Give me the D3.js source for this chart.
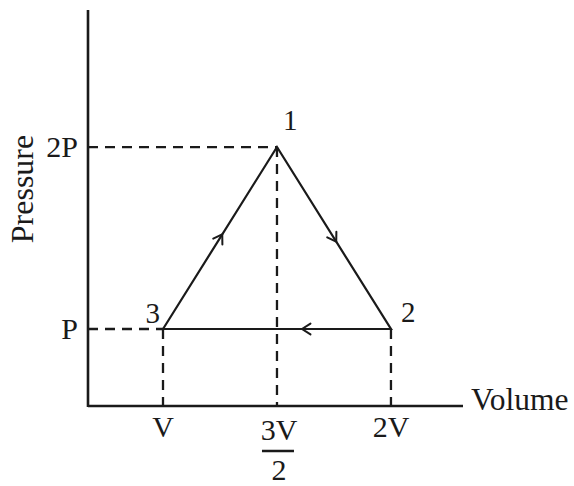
<!DOCTYPE html>
<html>
<head>
<meta charset="utf-8">
<script src="https://cdn.jsdelivr.net/npm/d3@7/dist/d3.min.js"></script>
<style>
  html, body { margin: 0; padding: 0; background: #fff; }
  svg { display: block; }
  text { font-family: "Liberation Serif", "Times New Roman", serif; fill: #1a1a1a; }
</style>
</head>
<body>
<svg id="chart" width="574" height="486"></svg>
<script>
// ---- data ----
const stateNames = ["1", "2", "3"];
const stateVolumes = [1.5, 2, 1];      // in units of V
const statePressures = [2, 1, 1];      // in units of P
const cyclePath = ["3", "1", "2", "3"]; // direction of the cycle
const xTickValues = [1, 1.5, 2];
const xTickLabels = ["V", "3V/2", "2V"];
const yTickValues = [1, 2];
const yTickLabels = ["P", "2P"];
const xAxisTitle = "Volume";
const yAxisTitle = "Pressure";

// ---- layout ----
const svg = d3.select("#chart");
const ink = "#1a1a1a";

const x = d3.scaleLinear().domain([0.671, 2.316]).range([88, 463]);
const y = d3.scaleLinear().domain([0.577, 2.753]).range([406, 10]);

const states = stateNames.map((n, i) => ({ name: n, v: stateVolumes[i], p: statePressures[i] }));
const byName = Object.fromEntries(states.map(s => [s.name, s]));

// dashed guide lines
const guides = svg.append("g")
  .attr("stroke", ink).attr("stroke-width", 2.3).attr("stroke-dasharray", "10,7").attr("fill", "none");
yTickValues.forEach(p => {
  const vMin = d3.min(states.filter(s => s.p === p), s => s.v);
  guides.append("line")
    .attr("x1", x.range()[0]).attr("x2", x(vMin))
    .attr("y1", y(p)).attr("y2", y(p));
});
states.forEach(s => {
  guides.append("line")
    .attr("x1", x(s.v)).attr("x2", x(s.v))
    .attr("y1", y(s.p)).attr("y2", y.range()[0]);
});

// axes (plain lines, no ticks)
const axisG = svg.append("g").attr("stroke", ink).attr("stroke-width", 2.6);
axisG.append("line")
  .attr("x1", x.range()[0]).attr("x2", x.range()[0])
  .attr("y1", y.range()[0] + 1).attr("y2", y.range()[1]);
axisG.append("line")
  .attr("x1", x.range()[0]).attr("x2", x.range()[1])
  .attr("y1", y.range()[0]).attr("y2", y.range()[0]);

// cycle
const pts = cyclePath.map(n => byName[n]);
svg.append("path")
  .attr("d", d3.line().x(d => x(d.v)).y(d => y(d.p))(pts))
  .attr("fill", "none").attr("stroke", ink).attr("stroke-width", 2.2)
  .attr("stroke-linejoin", "miter");

// direction chevrons on each leg
const arrowAt = [0.52, 0.52, 0.39];
for (let i = 0; i < pts.length - 1; i++) {
  const a = pts[i], b = pts[i + 1];
  const x0 = x(a.v), y0 = y(a.p), x1 = x(b.v), y1 = y(b.p);
  const t = arrowAt[i];
  const tx = x0 + (x1 - x0) * t, ty = y0 + (y1 - y0) * t;
  const ang = Math.atan2(y1 - y0, x1 - x0);
  const L = 10, spread = Math.PI / 5.5;
  const p1 = [tx - L * Math.cos(ang - spread), ty - L * Math.sin(ang - spread)];
  const p2 = [tx - L * Math.cos(ang + spread), ty - L * Math.sin(ang + spread)];
  svg.append("path")
    .attr("d", `M${p1[0]},${p1[1]}L${tx},${ty}L${p2[0]},${p2[1]}`)
    .attr("fill", "none").attr("stroke", ink).attr("stroke-width", 2)
    .attr("stroke-linecap", "round");
}

// tick labels
const fs = 30;
yTickValues.forEach((p, i) => {
  svg.append("text")
    .attr("x", 78).attr("y", y(p) + 10)
    .attr("text-anchor", "end").attr("font-size", fs)
    .text(yTickLabels[i]);
});
xTickValues.forEach((v, i) => {
  const lab = xTickLabels[i];
  const cx = x(v);
  if (lab.includes("/")) {
    const [num, den] = lab.split("/");
    svg.append("text").attr("x", cx + 2).attr("y", 440)
      .attr("text-anchor", "middle").attr("font-size", fs).text(num);
    svg.append("line").attr("x1", cx - 15).attr("x2", cx + 17)
      .attr("y1", 451).attr("y2", 451)
      .attr("stroke", ink).attr("stroke-width", 2.4);
    svg.append("text").attr("x", cx + 2).attr("y", 480)
      .attr("text-anchor", "middle").attr("font-size", fs).text(den);
  } else {
    svg.append("text").attr("x", cx).attr("y", 437)
      .attr("text-anchor", "middle").attr("font-size", fs).text(lab);
  }
});

// axis titles
svg.append("text").attr("x", 471).attr("y", 410)
  .attr("font-size", 31.5).text(xAxisTitle);
svg.append("text")
  .attr("transform", `translate(33,189) rotate(-90)`)
  .attr("text-anchor", "middle").attr("font-size", 32).text(yAxisTitle);

// state labels
const labelOffsets = { "1": [6, -17, "start"], "2": [10, -7, "start"], "3": [-3, -6, "end"] };
states.forEach(s => {
  const o = labelOffsets[s.name];
  svg.append("text")
    .attr("x", x(s.v) + o[0]).attr("y", y(s.p) + o[1])
    .attr("text-anchor", o[2]).attr("font-size", 29)
    .text(s.name);
});
</script>
</body>
</html>
